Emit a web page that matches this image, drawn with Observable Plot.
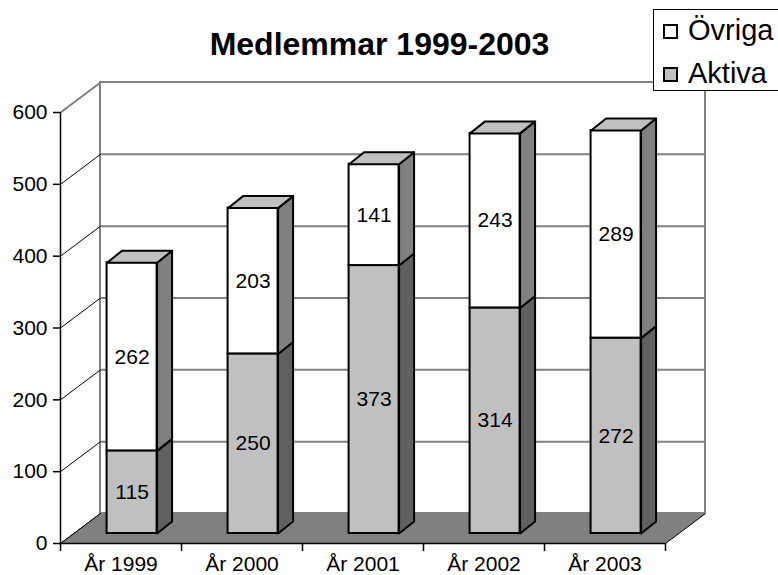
<!DOCTYPE html>
<html><head><meta charset="utf-8">
<script src="https://cdn.jsdelivr.net/npm/d3@7"></script>
<script src="https://cdn.jsdelivr.net/npm/@observablehq/plot@0.6"></script>
<style>
body{margin:0;background:#fff;font-family:"Liberation Sans",Arial,sans-serif}
#wrap{position:relative;width:778px;height:575px;overflow:hidden;background:#fff}
#wrap svg text{font-family:"Liberation Sans",Arial,sans-serif}
#legend{position:absolute;left:653px;top:9px;width:140px;height:82px;box-sizing:border-box;border:1px solid #000;background:#fff}
.sw{position:absolute;left:9px;width:15px;height:15px;box-sizing:border-box;border:2px solid #000}
.lt{position:absolute;left:34px;font-family:"Liberation Sans",Arial,sans-serif;font-size:29px;line-height:29px;color:#000;white-space:nowrap}
</style></head><body><div id="wrap"></div>
<script>
// ---- data ----
const years = ["År 1999", "År 2000", "År 2001", "År 2002", "År 2003"];
const aktiva = [115, 250, 373, 314, 272];
const ovriga = [262, 203, 141, 243, 289];
const seriesNames = ["Övriga", "Aktiva"];
const yTicks = [0, 100, 200, 300, 400, 500, 600];
const title = "Medlemmar 1999-2003";

// ---- layout ----
const W = 778, H = 575, mL = 60, mR = 113, mT = 112, mB = 32;
const kx = (W - mL - mR) / years.length;      // px per category
const ky = (H - mT - mB) / 600;                // px per unit
const WX = 40 / kx, WY = 30 / ky;              // wall depth in data units
const DX = 15 / kx, DY = 12 / ky;              // bar depth in data units
const inset = 0.385, bw = 50 / kx;             // bar front face
const lift = -10;                              // px lift of bar base

const segs = [];
years.forEach((yr, i) => {
  segs.push({i, s: "Aktiva", y1: 0, y2: aktiva[i], v: aktiva[i]});
  segs.push({i, s: "Övriga", y1: aktiva[i], y2: aktiva[i] + ovriga[i], v: ovriga[i]});
});
const xl = d => d.i + inset, xr = d => d.i + inset + bw;
function sidePoly(d) {
  const x = xr(d);
  return [[x, d.y1], [x + DX, d.y1 + DY], [x + DX, d.y2 + DY], [x, d.y2], [x, d.y1]]
    .map(([px, py]) => ({x: px, y: py, id: d.s + d.i}));
}
function topPoly(d) {
  const a = xl(d), b = xr(d), t = d.y2;
  return [[a, t], [b, t], [b + DX, t + DY], [a + DX, t + DY], [a, t]]
    .map(([px, py]) => ({x: px, y: py, id: "t" + d.i}));
}
const aktSeg = segs.filter(d => d.s === "Aktiva");
const ovrSeg = segs.filter(d => d.s === "Övriga");
const n = years.length;
const floor = [[0, 0], [n, 0], [n + WX, WY], [WX, WY], [0, 0]].map(([x, y]) => ({x, y}));
const gridBack = yTicks.slice(1, -1);
const gridLeft = yTicks.slice(0, -1);
const FONT = "'Liberation Sans', Arial, sans-serif";

const chart = Plot.plot({
  width: W, height: H,
  marginLeft: mL, marginRight: mR, marginTop: mT, marginBottom: mB,
  x: {domain: [0, n]},
  y: {domain: [0, 600]},
  style: {fontFamily: FONT, fontSize: "21px", color: "#000", background: "#fff"},
  marks: [
    // back wall
    Plot.rect([0], {x1: 0, x2: n, y1: 0, y2: 600, dx: 40, dy: -30, fill: "#fff", stroke: "#808080", strokeWidth: 2}),
    Plot.ruleY(gridBack, {x1: 0, x2: n, dx: 40, dy: -30, stroke: "#808080", strokeWidth: 2}),
    // left wall
    Plot.link(gridLeft, {x1: 0, y1: d => d, x2: WX, y2: d => d + WY, stroke: "#000", strokeWidth: 1}),
    Plot.link([600], {x1: 0, y1: d => d, x2: WX, y2: d => d + WY, stroke: "#808080", strokeWidth: 2}),
    // floor
    Plot.line(floor, {x: "x", y: "y", fill: "#808080", stroke: "none"}),
    Plot.link([0], {x1: n, y1: 0, x2: n + WX, y2: WY, stroke: "#000", strokeWidth: 1}),
    Plot.link([0], {x1: 0, y1: 0, x2: WX, y2: WY, stroke: "#000", strokeWidth: 1}),
    // axes lines
    Plot.ruleX([0], {y1: 0, y2: 600, stroke: "#000", strokeWidth: 1.5}),
    Plot.ruleY([0], {x1: 0, x2: n, stroke: "#000", strokeWidth: 1.5}),
    Plot.axisY(yTicks, {tickSize: 7, tickPadding: 6, fontSize: 21, label: null, stroke: "#000", strokeWidth: 1.5}),
    Plot.axisX(d3.range(n + 1), {tickSize: 8, tickFormat: () => "", label: null, stroke: "#000", strokeWidth: 1.5}),
    Plot.axisX(years.map((_, i) => i + 0.5), {tickSize: 0, tickPadding: 13, fontSize: 21, label: null,
      tickFormat: v => years[Math.floor(v)]}),
    // bars: front faces
    Plot.rect(aktSeg, {x1: xl, x2: xr, y1: "y1", y2: "y2", dy: lift, fill: "#c0c0c0", stroke: "#000", strokeWidth: 2}),
    Plot.rect(ovrSeg, {x1: xl, x2: xr, y1: "y1", y2: "y2", dy: lift, fill: "#fff", stroke: "#000", strokeWidth: 2}),
    // side faces
    Plot.line(aktSeg.flatMap(sidePoly), {x: "x", y: "y", z: "id", dy: lift, fill: "#606060", stroke: "#000", strokeWidth: 2, strokeLinejoin: "round"}),
    Plot.line(ovrSeg.flatMap(sidePoly), {x: "x", y: "y", z: "id", dy: lift, fill: "#808080", stroke: "#000", strokeWidth: 2, strokeLinejoin: "round"}),
    // top faces
    Plot.line(ovrSeg.flatMap(topPoly), {x: "x", y: "y", z: "id", dy: lift, fill: "#c0c0c0", stroke: "#000", strokeWidth: 2, strokeLinejoin: "round"}),
    // value labels
    Plot.text(segs, {x: d => d.i + inset + bw / 2, y: d => (d.y1 + d.y2) / 2, text: d => String(d.v), dy: lift, fontSize: 21, fill: "#000"}),
    // title
    Plot.text([title], {frameAnchor: "top-left", dx: 319, dy: -80.6, text: d => d, fontSize: 32, fontWeight: "bold", textAnchor: "middle", fill: "#000"})
  ]
});
const wrap = document.getElementById("wrap");
wrap.appendChild(chart);

// legend
const legend = document.createElement("div");
legend.id = "legend";
const fills = {"Övriga": "#fff", "Aktiva": "#c0c0c0"};
seriesNames.forEach((name, k) => {
  const sw = document.createElement("div");
  sw.className = "sw";
  sw.style.top = (14 + 43 * k) + "px";
  sw.style.background = fills[name];
  const lt = document.createElement("div");
  lt.className = "lt";
  lt.style.top = (5.5 + 43 * k) + "px";
  lt.textContent = name;
  legend.appendChild(sw);
  legend.appendChild(lt);
});
wrap.appendChild(legend);
</script>
</body></html>
